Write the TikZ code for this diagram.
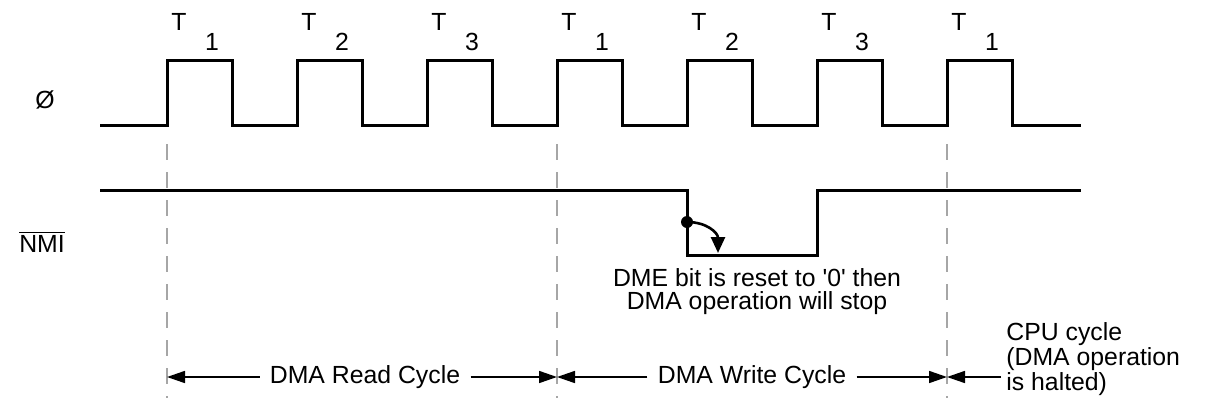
\documentclass[tikz,border=0pt]{standalone}
\usepackage{fontspec}
\setmainfont{Liberation Sans}[Ligatures=TeXOff]
\usepackage{tikz}
\usetikzlibrary{arrows.meta,calc}

\begin{document}
\begin{tikzpicture}[x=0.5pt,y=-0.5pt,
    every node/.style={font=\fontsize{12.4}{11.5}\selectfont,inner sep=0pt},
    wave/.style={line width=1.5pt,line join=miter},
    guide/.style={gray!70,line width=0.6pt,dash pattern=on 8pt off 6pt},
    dim/.style={-{Triangle[length=9pt,width=6pt]},line width=0.8pt},
    cyc/.style={inner xsep=5pt}]
  \useasboundingbox (0,0) rectangle (1205,402);
  % clock and labels
  \node (phi) at (45,100) {Ø};
  \draw[wave] (100,125) \foreach \x in {167,297,...,947}
    {-- (\x,125) -- (\x,60) -- ++(65,0) -- ++(0,65)} -- (1081,125);
  \foreach \x/\n [count=\i] in {167/1,297/2,427/3,557/1,687/2,817/3,947/1} {
    \node[anchor=base] (t\i) at (\x+12,30) {T};
    \node[anchor=base] (s\i) at (\x+45,50) {\n};
  }
  % guides
  \foreach \x [count=\i] in {167,557,947} {
    \coordinate (g\i) at (\x,377);
    \draw[guide] (\x,144) -- (\x,398);
  }
  % NMI
  \node (nmi) at (42,242) {$\overline{\mbox{NMI}}$};
  \draw[wave] (100,190) -- (687,190) -- (687,255) -- (817,255) -- (817,190) -- (1081,190);
  \coordinate (dme) at (687,222);
  \coordinate (dmeend) at (718,253);
  \fill (dme) circle[radius=6];
  \draw[line width=1.3pt,-{Triangle[length=8pt,width=7pt]}]
    (dme) .. controls +(20,0) and +(0,-20) .. (dmeend);
  \node[align=center,anchor=north] (note) at (757,268)
    {DME bit is reset to '0' then\\DMA operation will stop};
  % cycles
  \node[cyc] (rd) at (365,377) {DMA Read Cycle};
  \node[cyc] (wr) at (752,377) {DMA Write Cycle};
  \draw[dim] (rd) -- (g1); \draw[dim] (rd) -- (g2);
  \draw[dim] (wr) -- (g2); \draw[dim] (wr) -- (g3);
  \node[align=left,anchor=north west] (cpu) at (1006,322)
    {CPU cycle\\(DMA operation\\is halted)};
  \coordinate (cpuend) at (1001,377);
  \draw[dim] (cpuend) -- (g3);
\end{tikzpicture}
\end{document}
